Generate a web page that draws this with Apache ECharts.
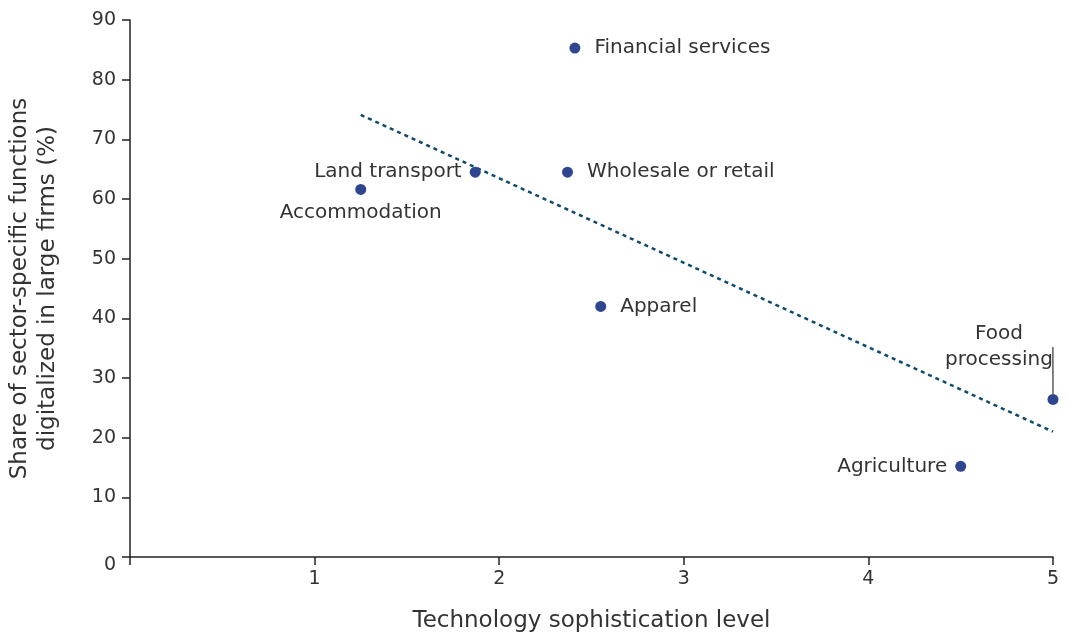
<!DOCTYPE html>
<html>
<head>
<meta charset="utf-8">
<script src="https://cdn.jsdelivr.net/npm/echarts@6/dist/echarts.min.js"></script>
<style>
  html, body { margin: 0; padding: 0; background: #fff; }
  #chart { width: 1066px; height: 634px; }
</style>
</head>
<body>
<div id="chart"></div>
<script>
// sectors and values
var sectors = ["Financial services", "Wholesale or retail", "Land transport", "Accommodation", "Apparel", "Agriculture", "Food\nprocessing"];
var techLevel = [2.41, 2.37, 1.87, 1.25, 2.55, 4.50, 5.00];
var digitalShare = [85.3, 64.5, 64.5, 61.6, 42.0, 15.2, 26.4];
var labelSide = ["right", "right", "left", "bottom", "right", "left", "food"];
var trendX = [1.25, 5.0];
var trendY = [74.1, 21.0];

var font = "'DejaVu Sans', sans-serif";
var textColor = "#333";

var points = sectors.map(function (name, i) {
  var item = { name: name, value: [techLevel[i], digitalShare[i]] };
  var side = labelSide[i];
  if (side === "food") {
    item.label = { position: "top", align: "center", lineHeight: 26 };
    item.labelLine = { show: true, lineStyle: { color: "#333", width: 1.2, opacity: 1 } };
  } else if (side === "bottom") {
    item.label = { position: "bottom", distance: 8 };
  } else if (side === "left") {
    item.label = { position: "left", distance: 8 };
  } else {
    item.label = { position: "right", distance: 14 };
  }
  return item;
});

var chart = echarts.init(document.getElementById("chart"));
chart.setOption({
  animation: false,
  grid: { left: 130, right: 13, top: 20, bottom: 77, containLabel: false, outerBoundsMode: "none" },
  xAxis: {
    type: "value",
    min: 0, max: 5, interval: 1,
    name: "Technology sophistication level",
    nameLocation: "middle",
    nameGap: 53,
    nameTextStyle: { fontFamily: font, fontSize: 23, color: textColor },
    splitLine: { show: false },
    axisLine: { lineStyle: { color: "#222", width: 1.5 } },
    axisTick: { show: true, length: 8, lineStyle: { color: "#222", width: 1.5 } },
    axisLabel: {
      fontFamily: font, fontSize: 19, color: textColor, margin: 13,
      formatter: function (v) { return v === 0 ? "" : v; }
    }
  },
  yAxis: {
    type: "value",
    min: 0, max: 90, interval: 10,
    name: "Share of sector-specific functions\ndigitalized in large firms (%)",
    nameLocation: "middle",
    nameGap: 68,
    nameTextStyle: { fontFamily: font, fontSize: 23, color: textColor, lineHeight: 28 },
    splitLine: { show: false },
    axisLine: { lineStyle: { color: "#222", width: 1.5 } },
    axisTick: { show: true, length: 8, lineStyle: { color: "#222", width: 1.5 } },
    axisLabel: {
      fontFamily: font, fontSize: 19, color: textColor, margin: 14,
      formatter: function (v) { return v === 0 ? "{z|0}" : v; },
      rich: { z: { fontFamily: font, fontSize: 19, color: textColor, padding: [16, 0, 0, 0] } }
    }
  },
  series: [
    {
      type: "line",
      data: trendX.map(function (x, i) { return [x, trendY[i]]; }),
      symbol: "none",
      lineStyle: { color: "#0e4a6e", width: 2.5, type: [4, 4] },
      silent: true,
      z: 1
    },
    {
      type: "scatter",
      data: points,
      symbolSize: 11,
      itemStyle: { color: "#2f4590", opacity: 1 },
      label: {
        show: true,
        formatter: "{b}",
        fontFamily: font,
        fontSize: 20,
        color: textColor,
        opacity: 1
      },
      labelLayout: function (params) {
        if (labelSide[params.dataIndex] === "food") {
          return { dx: -54, dy: -16 };
        }
        return {};
      },
      z: 3
    }
  ]
});
</script>
</body>
</html>
